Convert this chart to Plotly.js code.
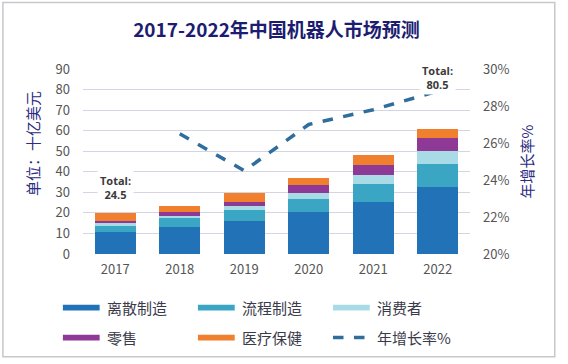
<!DOCTYPE html>
<html>
<head>
<meta charset="utf-8">
<script src="https://cdn.plot.ly/plotly-3.0.1.min.js"></script>
<style>html,body{margin:0;padding:0;background:#fff;}#chart{width:568px;height:364px;}</style>
</head>
<body>
<div id="chart"></div>
<script>
const years = ['2017', '2018', '2019', '2020', '2021', '2022'];
const discrete = [10.8, 13.3, 16.2, 20.3, 25.4, 32.7];
const process = [2.8, 4.1, 5.2, 6.4, 8.6, 10.9];
const consumer = [1.6, 1.2, 2.1, 3.1, 4.6, 6.6];
const retail = [1.0, 2.0, 1.9, 3.6, 4.7, 6.1];
const healthcare = [3.8, 2.7, 4.1, 3.7, 4.9, 4.7];
const growth = [null, 26.5, 24.5, 27.0, 27.8, 28.8];
const seriesNames = ['离散制造', '流程制造', '消费者', '零售', '医疗保健', '年增长率%'];
const totalLabels = [{year: '2017', text: 'Total:<br>24.5', y: 32.5}, {year: '2022', text: 'Total:<br>80.5', y: 86}];
const leftTicks = [0, 10, 20, 30, 40, 50, 60, 70, 80, 90];
const rightTicks = [20, 22, 24, 26, 28, 30];

const colors = ['#2272b8', '#3aa6c4', '#a9dbe7', '#8e3995', '#f07f2e'];
const lineColor = '#2f6d9c';
const font = '"Noto Sans CJK SC", "Noto Sans", sans-serif';
const barSeries = [discrete, process, consumer, retail, healthcare];

const traces = barSeries.map((vals, i) => ({
  type: 'bar', x: years, y: vals, name: seriesNames[i],
  marker: {color: colors[i], line: {width: 0}}, showlegend: false
}));
traces.push({
  type: 'scatter', mode: 'lines', x: years, y: growth, yaxis: 'y2',
  name: seriesNames[5], line: {color: lineColor, width: 3.5, dash: 'dash'},
  connectgaps: false, showlegend: false
});

const shapes = [{
  type: 'rect', xref: 'paper', yref: 'paper',
  x0: -0.207, x1: 1.219, y0: -0.555, y1: 1.36,
  line: {color: '#c8c8cc', width: 1.5}, fillcolor: 'rgba(0,0,0,0)', layer: 'below'
}];
const annotations = [];
// custom legend (3 columns x 2 rows)
const legX = [-0.052, 0.297, 0.646];
const legY = [-0.29, -0.452];
seriesNames.forEach((nm, i) => {
  const col = i % 3, row = Math.floor(i / 3);
  const x0 = legX[col], yv = legY[row];
  if (i < 5) {
    shapes.push({type: 'rect', xref: 'paper', yref: 'paper',
      x0: x0, x1: x0 + 0.095, y0: yv - 0.016, y1: yv + 0.016,
      fillcolor: colors[i], line: {width: 0}});
  } else {
    shapes.push({type: 'line', xref: 'paper', yref: 'paper',
      x0: x0, x1: x0 + 0.095, y0: yv, y1: yv,
      line: {color: lineColor, width: 3.5, dash: 'dash'}});
  }
  annotations.push({xref: 'paper', yref: 'paper', x: x0 + 0.108, y: yv,
    xanchor: 'left', yanchor: 'middle', text: nm, showarrow: false,
    font: {family: font, size: 15, color: '#3a3a4a'}});
});
totalLabels.forEach(t => {
  annotations.push({x: years.indexOf(t.year), y: t.y, xref: 'x', yref: 'y', text: '<b>' + t.text + '</b>',
    showarrow: false, bgcolor: '#ffffff', borderpad: 2,
    font: {family: '"Open Sans", "Noto Sans", sans-serif', size: 11, color: '#3a3a3a'}});
});
// left axis title as annotation for exact placement
annotations.push({xref: 'paper', yref: 'paper', x: -0.132, y: 0.6, textangle: -90,
  text: '单位：十亿美元', showarrow: false, xanchor: 'center', yanchor: 'middle',
  font: {family: font, size: 15, color: '#2c2c80'}});

const layout = {
  width: 568, height: 364,
  margin: {l: 83, r: 98, t: 69, b: 110},
  paper_bgcolor: '#ffffff', plot_bgcolor: '#ffffff',
  title: {text: '<b>2017-2022年中国机器人市场预测</b>', x: 0.5, xref: 'paper', xanchor: 'center', y: 0.917, yanchor: 'middle',
    font: {family: font, size: 19, color: '#1c1c70'}},
  barmode: 'stack', bargap: 0.36,
  showlegend: false,
  xaxis: {type: 'category', range: [-0.5, 5.5], showgrid: false, zeroline: false, showline: false,
    ticks: '', tickfont: {family: font, size: 13, color: '#555555'}, ticklabelstandoff: 6},
  yaxis: {range: [0, 90], tickvals: leftTicks, showgrid: true, gridcolor: '#d4d4e4', gridwidth: 1,
    zeroline: false, showline: false, ticks: '', ticklabelstandoff: 12,
    tickfont: {family: font, size: 13, color: '#555555'}},
  yaxis2: {overlaying: 'y', side: 'right', range: [20, 30], tickvals: rightTicks,
    ticktext: rightTicks.map(v => v + '%'), showgrid: false, zeroline: false, showline: false,
    ticks: '', ticklabelstandoff: 12, tickfont: {family: font, size: 13, color: '#555555'},
    title: {text: '年增长率%', font: {family: font, size: 15, color: '#2c2c80'}, standoff: 14}},
  shapes: shapes,
  annotations: annotations
};
Plotly.newPlot('chart', traces, layout, {displayModeBar: false, staticPlot: true});
</script>
</body>
</html>
